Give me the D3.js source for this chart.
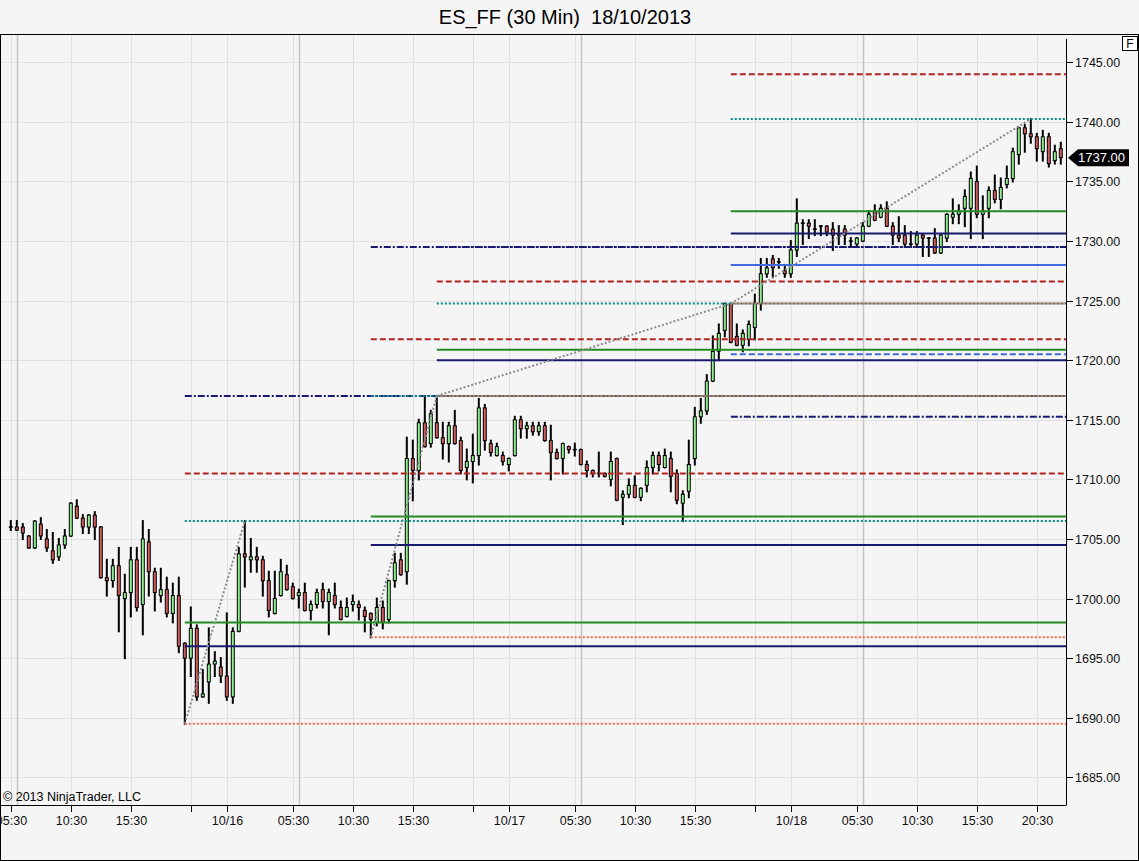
<!DOCTYPE html>
<html>
<head>
<meta charset="utf-8">
<script src="https://cdn.jsdelivr.net/npm/d3@7"></script>
<style>
  html, body { margin: 0; padding: 0; background: #f5f5f5; }
  svg { display: block; }
</style>
</head>
<body>
<div id="chart"></div>
<script>
// 30 min bars, index 0 = 15/10 05:30
let opens = [1706,1706,1706,1705.25,1704.25,1706.25,1705,1704,1703.5,1704.5,
  1705.25,1707.75,1706.75,1706,1707,1706,1701.75,1701.5,1702.75,1700,
  1700.5,1703.25,1699.5,1704.75,1702.25,1700.25,1700.75,1698.75,1700.25,1696.25,
  1695,1697.5,1691.75,1693,1694.5,1694.25,1693.5,1691.75,1697.25,1703.75,
  1703.25,1703.5,1703.25,1701.5,1698.75,1700.25,1702,1701,1700.25,1700.5,
  1699,1699.5,1700.75,1699.75,1700.25,1699.25,1698.5,1699.5,1699.5,1699,
  1698.75,1698,1699.25,1698.25,1701.5,1703.25,1702.25,1711.75,1710.75,1714.75,
  1713,1714.75,1713.5,1713,1714.5,1713.25,1711,1711.5,1712,1716,
  1713,1712,1712,1711.25,1712,1715,1714.25,1714.5,1714,1714.5,
  1713.25,1712.25,1711.75,1712.75,1712.5,1712.5,1711.25,1710.75,1710.5,1710.5,
  1710,1711.75,1708.5,1708.75,1709.5,1708.5,1709.5,1711,1712,1711,
  1711.75,1710.5,1708,1709,1711.75,1715.25,1715.75,1718.25,1720.75,1722.5,
  1724.75,1722,1721.25,1721.75,1722.75,1724.75,1727.25,1728.5,1728.25,1727.5,
  1727.25,1729.25,1731.5,1731.5,1731,1731.25,1731.25,1731,1730.5,1731,
  1730,1729.75,1730,1731.25,1732.5,1732,1732.75,1731.25,1730.5,1730.5,
  1729.75,1729.75,1730.5,1730.25,1730.25,1729,1730.25,1732,1732.25,1732.75,
  1732.75,1735,1732.25,1732.75,1734.25,1733.5,1734.75,1735.25,1737.25,1739.5,
  1739,1738.75,1737.5,1738.75,1736.75,1737.75];
let highs = [1706.5,1706.5,1706.25,1705.25,1706.5,1706.75,1705.75,1705.5,1705,1705.75,
  1708,1708.25,1707,1707,1707.25,1706,1703.25,1703.25,1704.25,1702,
  1704.25,1704.25,1706.5,1705.75,1702.5,1702.5,1701.75,1701.25,1701.75,1696.25,
  1699.25,1697.75,1694,1697.5,1695.5,1695,1698.75,1697.5,1704.25,1706.5,
  1705,1704.25,1703.5,1702.25,1702.25,1703.25,1702.75,1701.25,1700.75,1701.25,
  1699.75,1700.75,1701.25,1700.75,1701.25,1699.75,1700,1700.25,1699.75,1699.25,
  1698.75,1700,1699.75,1701.5,1703.75,1703.75,1713.5,1713.25,1715,1717,
  1715.75,1717,1714.75,1714.75,1715.75,1713.5,1712.5,1713.75,1716.75,1716.25,
  1713.25,1713,1712.25,1711.75,1715.25,1715.25,1714.75,1714.75,1714.75,1714.75,
  1714.5,1712.5,1713,1712.75,1713,1712.5,1711.5,1710.75,1712.25,1710.5,
  1712.25,1711.75,1709,1710,1710.25,1709.25,1711.5,1712.25,1712.25,1712.5,
  1712.25,1710.75,1709,1713.25,1716,1716.75,1718.75,1722,1723,1724.75,
  1724.75,1723,1722.5,1723.25,1725.5,1728.5,1728.5,1728.75,1728.5,1728,
  1730,1733.5,1731.75,1731.75,1731.75,1731.25,1731.25,1731.5,1731.25,1731.25,
  1730.25,1730.25,1731.5,1732.5,1733,1733,1733.25,1731.5,1732,1731.25,
  1730.75,1730.75,1730.5,1730.25,1731,1730.5,1732.25,1733.5,1733,1734.25,
  1735.75,1736.25,1733.75,1734.5,1735.5,1735.25,1736.25,1737.75,1739.5,1739.75,
  1740.25,1739,1739.25,1739,1738,1738.25];
let lows = [1705.75,1705.75,1705,1704.25,1704.25,1705,1704,1703,1703.25,1704.25,
  1705.25,1706.75,1705.5,1705.5,1705,1701.75,1700.25,1701,1697.25,1695,
  1698.5,1699,1697,1700.25,1699,1699.75,1698.5,1698,1695.5,1689.5,
  1693.5,1691.5,1691.75,1691.25,1693.5,1693,1691.5,1691.25,1697.25,1701,
  1702.25,1702.25,1700.25,1698.5,1698.75,1700.25,1700.75,1700,1699.25,1699,
  1698.25,1699.25,1699.25,1697,1699.25,1698.25,1698.5,1699,1698.25,1697.25,
  1696.75,1697.75,1697.5,1698,1701,1702,1701.25,1708.25,1710,1712.75,
  1712.75,1713.5,1711.75,1711.5,1713,1710.5,1710,1709.75,1711.25,1712.5,
  1712,1712,1711.25,1710.75,1712,1713.5,1713.5,1713.75,1713.75,1713.25,
  1710,1711.75,1710.5,1712.25,1712,1711.25,1710.25,1710.25,1710.25,1710.25,
  1709.5,1708.25,1706.25,1708.5,1708.5,1708.25,1709,1710.5,1710.75,1711,
  1709,1708,1706.5,1708.5,1711.25,1714.75,1715.5,1718.25,1720,1722,
  1721.5,1721.25,1720.75,1721.25,1721.75,1724.25,1727,1727,1727.75,1727,
  1727,1728.75,1729.75,1730.25,1730.5,1730.5,1730.5,1729.25,1729.75,1729.75,
  1729.5,1729.5,1730,1731.25,1731.75,1732,1731.25,1729.75,1730,1729.5,
  1729.5,1729.5,1728.75,1728.75,1729,1729,1730,1731.5,1731.5,1731.25,
  1730.25,1732,1730.25,1732,1733.25,1732.75,1734.5,1735,1736.5,1737.5,
  1738.25,1736.75,1736.75,1736.25,1736.5,1736.5];
let closes = [1706,1705.75,1705.5,1704.25,1706.5,1705.25,1704.25,1703.25,1704.5,1705.25,
  1708,1706.75,1706,1707,1706,1701.75,1701.5,1702.75,1700.25,1700.5,
  1703.25,1699.25,1705,1702.25,1700.5,1700.75,1698.75,1700.25,1696,1695,
  1697.5,1691.75,1692,1694.5,1694.75,1693.5,1691.75,1697.25,1703.75,1703.5,
  1703.5,1703.25,1701.5,1699,1700,1702.25,1700.75,1700,1700.5,1699,
  1699.5,1700.5,1699.75,1700.5,1699.5,1698.25,1699.25,1699.75,1699.25,1698.5,
  1698.25,1699.25,1698,1701.5,1703,1702,1711.75,1710.75,1714.75,1712.75,
  1715.5,1713.5,1713,1714.5,1713,1710.75,1711.5,1712,1716,1713.25,
  1712.25,1712.75,1711.5,1711.75,1715,1714.25,1714.5,1714,1714.5,1713.25,
  1712.25,1711.75,1713,1712.5,1712.5,1711.25,1710.75,1710.5,1710.5,1710.25,
  1711.5,1708.25,1708.75,1709.5,1708.5,1709.25,1711,1712,1711.25,1712,
  1710.25,1708.25,1708.75,1711.25,1715.25,1715.75,1718.25,1720.75,1722.25,1724.75,
  1721.5,1721.25,1722.25,1723,1724.75,1727.25,1727.75,1727.75,1728.25,1727.25,
  1729.25,1731.5,1731.5,1731.25,1731,1731.25,1730.75,1730.5,1730.5,1730.5,
  1730,1730.25,1731.25,1732.25,1731.75,1732.75,1731.25,1730.5,1730.25,1729.75,
  1729.75,1730.5,1730.25,1730.25,1729,1730.5,1732.25,1732.25,1732.5,1733.75,
  1735.25,1732.25,1732.5,1734.25,1733.5,1734.5,1735.25,1737.5,1739.5,1739,
  1738.75,1737.75,1738.75,1736.5,1737.5,1737];

let tickIdx = [0, 10, 20, 30, 36, 47, 57, 67, 77, 83, 94, 104, 114, 124, 130, 141, 151, 161, 171];
let tickLabels = ["05:30", "10:30", "15:30", "", "10/16", "05:30", "10:30", "15:30", "", "10/17",
  "05:30", "10:30", "15:30", "", "10/18", "05:30", "10:30", "15:30", "20:30"];
let sessionIdx = [1, 48, 95, 142];
let priceTicks = [1685, 1690, 1695, 1700, 1705, 1710, 1715, 1720, 1725, 1730, 1735, 1740, 1745];

// fibonacci extensions: start bar + levels (0, 38.2, 50, 100, 123.6, 161.8)
let fibStarts = [29, 60, 71, 120];
let fibLevels = [
  [1689.5, 1696, 1698, 1706.5, 1710.5, 1717],
  [1696.75, 1704.5, 1706.875, 1717, 1721.75, 1729.5],
  [1717, 1720, 1720.875, 1724.75, 1726.6, 1729.5],
  [1724.75, 1730.625, 1732.5, 1740.25, 1744, null],
];
let fibAnchors = [[29, 1689.5, 39, 1706.5], [60, 1696.75, 71, 1717], [71, 1717, 120, 1724.75], [120, 1724.75, 170, 1740.25]];
let extraStart = 120;
let extraLevels = [1728, 1720.5, 1715.25];

let lastPrice = 1737;

let W = 1139, H = 861;
let plot = { left: 1, right: 1066, top: 35, bottom: 805 };

let svg = d3.select("#chart").append("svg")
  .attr("width", W).attr("height", H)
  .style("background", "#f5f5f5")
  .style("font-family", "Arial, 'Liberation Sans', sans-serif");

let x = d3.scaleLinear().domain([0, 175]).range([10.8, 1060.8]);
let y = d3.scaleLinear().domain([1685, 1745]).range([777.3, 62.3]);

svg.append("defs").append("clipPath").attr("id", "plotclip")
  .append("rect")
  .attr("x", plot.left).attr("y", plot.top)
  .attr("width", plot.right - plot.left).attr("height", plot.bottom - plot.top);

let g = svg.append("g").attr("clip-path", "url(#plotclip)");

// grid
g.selectAll(".hgrid").data(priceTicks).join("line")
  .attr("x1", plot.left).attr("x2", plot.right)
  .attr("y1", d => Math.round(y(d)) + 0.5).attr("y2", d => Math.round(y(d)) + 0.5)
  .attr("stroke", "#e1e1e1").attr("stroke-width", 1);

g.selectAll(".vgrid").data(tickIdx).join("line")
  .attr("x1", d => Math.round(x(d)) + 0.5).attr("x2", d => Math.round(x(d)) + 0.5)
  .attr("y1", plot.top).attr("y2", plot.bottom)
  .attr("stroke", "#e1e1e1").attr("stroke-width", 1);

g.selectAll(".session").data(sessionIdx).join("line")
  .attr("x1", d => Math.round(x(d)) + 0.5).attr("x2", d => Math.round(x(d)) + 0.5)
  .attr("y1", plot.top).attr("y2", plot.bottom)
  .attr("stroke", "#c4c4c4").attr("stroke-width", 1.5);

// candles
let bars = d3.range(opens.length).map(i => ({
  i: i, o: opens[i], h: highs[i], l: lows[i], c: closes[i]
}));

let candle = g.append("g").selectAll("g").data(bars).join("g");

candle.append("line")
  .attr("x1", d => x(d.i)).attr("x2", d => x(d.i))
  .attr("y1", d => y(d.h) - 1).attr("y2", d => y(d.l) + 1)
  .attr("stroke", "#000").attr("stroke-width", 2);

candle.filter(d => d.o !== d.c).append("rect")
  .attr("x", d => x(d.i) - 1.5)
  .attr("width", 3)
  .attr("y", d => y(Math.max(d.o, d.c)))
  .attr("height", d => Math.abs(y(d.o) - y(d.c)))
  .attr("fill", d => d.c > d.o ? "#90ee90" : "#cd5c5c")
  .attr("stroke", "#000").attr("stroke-width", 1);

candle.filter(d => d.o === d.c).append("line")
  .attr("x1", d => x(d.i) - 2).attr("x2", d => x(d.i) + 2)
  .attr("y1", d => y(d.o)).attr("y2", d => y(d.o))
  .attr("stroke", "#000").attr("stroke-width", 1.5);

// drawing objects
let fibStyles = [
  { color: "#ff6347", dash: "2,2" },
  { color: "#191970", dash: null },
  { color: "#228b22", dash: null },
  { color: "#008b8b", dash: "2,2" },
  { color: "#b22222", dash: "6,3" },
  { color: "#191970", dash: "7,2,2,2" },
];

let fibLines = [];
fibStarts.forEach((s, k) => {
  fibLevels[k].forEach((lv, j) => {
    if (lv !== null) fibLines.push({ start: s, level: lv, style: fibStyles[j], order: j });
  });
});
// 0% levels last so they sit on top
fibLines.sort((a, b) => (a.order === 0) - (b.order === 0));

let extraStyles = [
  { color: "#4169e1", dash: null },
  { color: "#4169e1", dash: "6,3" },
  { color: "#191970", dash: "7,2,2,2" },
];
extraLevels.forEach((lv, j) => fibLines.push({ start: extraStart, level: lv, style: extraStyles[j] }));

g.append("g").selectAll("line").data(fibLines).join("line")
  .attr("x1", d => x(d.start)).attr("x2", plot.right)
  .attr("y1", d => y(d.level)).attr("y2", d => y(d.level))
  .attr("stroke", d => d.style.color)
  .attr("stroke-width", 2)
  .attr("stroke-dasharray", d => d.style.dash);

g.append("g").selectAll("line").data(fibAnchors).join("line")
  .attr("x1", d => x(d[0])).attr("y1", d => y(d[1]))
  .attr("x2", d => x(d[2])).attr("y2", d => y(d[3]))
  .attr("stroke", "#8c8c8c").attr("stroke-width", 2)
  .attr("stroke-dasharray", "2,2");

// copyright
svg.append("text")
  .attr("x", 3).attr("y", 801)
  .attr("font-size", 12.5).attr("fill", "#000")
  .text("\u00a9 2013 NinjaTrader, LLC");

// axes
svg.append("line")
  .attr("x1", 0).attr("x2", plot.right)
  .attr("y1", plot.bottom + 0.5).attr("y2", plot.bottom + 0.5)
  .attr("stroke", "#000");
svg.append("line")
  .attr("x1", plot.right + 0.5).attr("x2", plot.right + 0.5)
  .attr("y1", 39).attr("y2", plot.bottom + 0.5)
  .attr("stroke", "#000");

let xt = svg.append("g").selectAll("g").data(tickIdx).join("g")
  .attr("transform", d => `translate(${Math.round(x(d)) + 0.5},${plot.bottom})`);
xt.append("line").attr("y1", 0).attr("y2", 7).attr("stroke", "#000");
xt.append("text")
  .attr("y", 20).attr("text-anchor", "middle")
  .attr("font-size", 12.5).attr("fill", "#111")
  .text((d, i) => tickLabels[i]);

let yt = svg.append("g").selectAll("g").data(priceTicks).join("g")
  .attr("transform", d => `translate(${plot.right},${Math.round(y(d)) + 0.5})`);
yt.append("line").attr("x1", 0).attr("x2", 7).attr("stroke", "#000");
yt.append("text")
  .attr("x", 9).attr("dy", "0.35em")
  .attr("font-size", 12.5).attr("fill", "#111")
  .text(d => d.toFixed(2));

// last price marker
let py = y(lastPrice);
svg.append("path")
  .attr("d", `M${plot.right + 2},${py} L${plot.right + 12},${py - 8.5} L${plot.right + 63},${py - 8.5} L${plot.right + 63},${py + 8.5} L${plot.right + 12},${py + 8.5} Z`)
  .attr("fill", "#000");
svg.append("text")
  .attr("x", plot.right + 12).attr("y", py).attr("dy", "0.36em")
  .attr("font-size", 13).attr("fill", "#fff")
  .text(lastPrice.toFixed(2));

// frame
svg.append("rect")
  .attr("x", 0.5).attr("y", 34.5).attr("width", W - 1).attr("height", H - 35)
  .attr("fill", "none").attr("stroke", "#000");

// F box
svg.append("rect")
  .attr("x", 1122.5).attr("y", 36.5).attr("width", 15).attr("height", 14)
  .attr("fill", "#fff").attr("stroke", "#000");
svg.append("text")
  .attr("x", 1130).attr("y", 48).attr("text-anchor", "middle")
  .attr("font-size", 12).attr("fill", "#000")
  .text("F");

// title
svg.append("text")
  .attr("x", 565).attr("y", 24).attr("text-anchor", "middle")
  .attr("font-size", 20).attr("fill", "#000")
  .attr("xml:space", "preserve")
  .style("white-space", "pre")
  .text("ES_FF (30 Min)  18/10/2013");
</script>
</body>
</html>
